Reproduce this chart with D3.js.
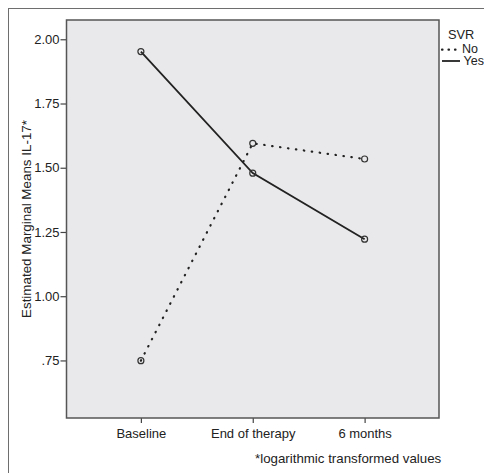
<!DOCTYPE html>
<html>
<head>
<meta charset="utf-8">
<script src="https://cdn.jsdelivr.net/npm/d3@7"></script>
<style>
  body { margin: 0; background: #fff; }
  svg { display: block; font-family: "Liberation Sans", Arial, sans-serif; }
</style>
</head>
<body>
<svg id="svg" width="484" height="473"></svg>
<script>
const svg = d3.select("#svg");

// data
const timepoints = ["Baseline", "End of therapy", "6 months"];
const noValues = [0.749, 1.595, 1.534];
const yesValues = [1.952, 1.479, 1.222];
const yTicks = [0.75, 1.0, 1.25, 1.5, 1.75, 2.0];
const series = [
	{ name: "No", values: noValues, dash: true },
	{ name: "Yes", values: yesValues, dash: false },
];

const plot = { left: 66.5, top: 20, right: 439, bottom: 418 };

const x = d3.scalePoint()
	.domain(timepoints)
	.range([plot.left, plot.right])
	.padding(0.665);

const y = d3.scaleLinear()
	.domain([0.526, 2.075])
	.range([plot.bottom, plot.top]);

// outer frame (cropped at right/bottom)
svg.append("rect")
	.attr("x", 8.5).attr("y", 8.5)
	.attr("width", 500).attr("height", 500)
	.attr("fill", "none")
	.attr("stroke", "#6e6e6e")
	.attr("stroke-width", 1);

// plot background
svg.append("rect")
	.attr("x", plot.left).attr("y", plot.top)
	.attr("width", plot.right - plot.left)
	.attr("height", plot.bottom - plot.top)
	.attr("fill", "#e9e9eb");

// axes
const yAxis = svg.append("g")
	.attr("transform", `translate(${plot.left},0)`)
	.call(d3.axisLeft(y).tickValues(yTicks).tickSize(6).tickPadding(1).tickSizeOuter(0)
		.tickFormat((d) => d3.format(".2f")(d).replace(/^0/, "")));
yAxis.select(".domain").remove();
yAxis.selectAll("line").attr("stroke", "#444").attr("stroke-width", 1.2);
yAxis.selectAll("text").attr("font-size", 13).attr("fill", "#222");

const xAxis = svg.append("g")
	.attr("transform", `translate(0,${plot.bottom})`)
	.call(d3.axisBottom(x).tickSize(5).tickSizeOuter(0));
xAxis.select(".domain").remove();
xAxis.selectAll("line").attr("stroke", "#444").attr("stroke-width", 1.2);
xAxis.selectAll("text").attr("font-size", 13).attr("fill", "#222").attr("dy", "0.95em");

// plot frame
svg.append("rect")
	.attr("x", plot.left).attr("y", plot.top)
	.attr("width", plot.right - plot.left)
	.attr("height", plot.bottom - plot.top)
	.attr("fill", "none")
	.attr("stroke", "#555")
	.attr("stroke-width", 1.5);

// lines
const line = d3.line()
	.x((d, i) => x(timepoints[i]))
	.y((d) => y(d));

for (const s of series) {
	svg.append("path")
		.datum(s.values)
		.attr("d", line)
		.attr("fill", "none")
		.attr("stroke", "#222")
		.attr("stroke-width", s.dash ? 2.2 : 1.8)
		.attr("stroke-linecap", s.dash ? "round" : "butt")
		.attr("stroke-dasharray", s.dash ? "0.5,7.5" : null);

	svg.selectAll(`.pt-${s.name}`)
		.data(s.values)
		.join("circle")
		.attr("class", `pt-${s.name}`)
		.attr("cx", (d, i) => x(timepoints[i]))
		.attr("cy", (d) => y(d))
		.attr("r", 3)
		.attr("fill", "none")
		.attr("stroke", "#333")
		.attr("stroke-width", 1.2);
}

// y title
svg.append("text")
	.attr("transform", `translate(30.5,${(plot.top + plot.bottom) / 2}) rotate(-90)`)
	.attr("text-anchor", "middle")
	.attr("font-size", 13.4)
	.attr("fill", "#222")
	.text("Estimated Marginal Means IL-17*");

// legend
const legend = svg.append("g");
legend.append("text")
	.attr("x", 448).attr("y", 39)
	.attr("font-size", 12.8).attr("fill", "#222")
	.text("SVR");
series.forEach((s, i) => {
	const ly = 49.7 + i * 11.3;
	legend.append("line")
		.attr("x1", 442).attr("x2", 460)
		.attr("y1", ly).attr("y2", ly)
		.attr("stroke", "#222")
		.attr("stroke-width", s.dash ? 2.2 : 1.8)
		.attr("stroke-linecap", s.dash ? "round" : "butt")
		.attr("stroke-dasharray", s.dash ? "0.5,6" : null);
	legend.append("text")
		.attr("x", s.dash ? 462 : 463.5).attr("y", ly + 3.5)
		.attr("font-size", 12.5).attr("fill", "#222")
		.text(s.name);
});

// footnote
svg.append("text")
	.attr("x", 255).attr("y", 463)
	.attr("font-size", 13.3).attr("fill", "#222")
	.text("*logarithmic transformed values");
</script>
</body>
</html>
